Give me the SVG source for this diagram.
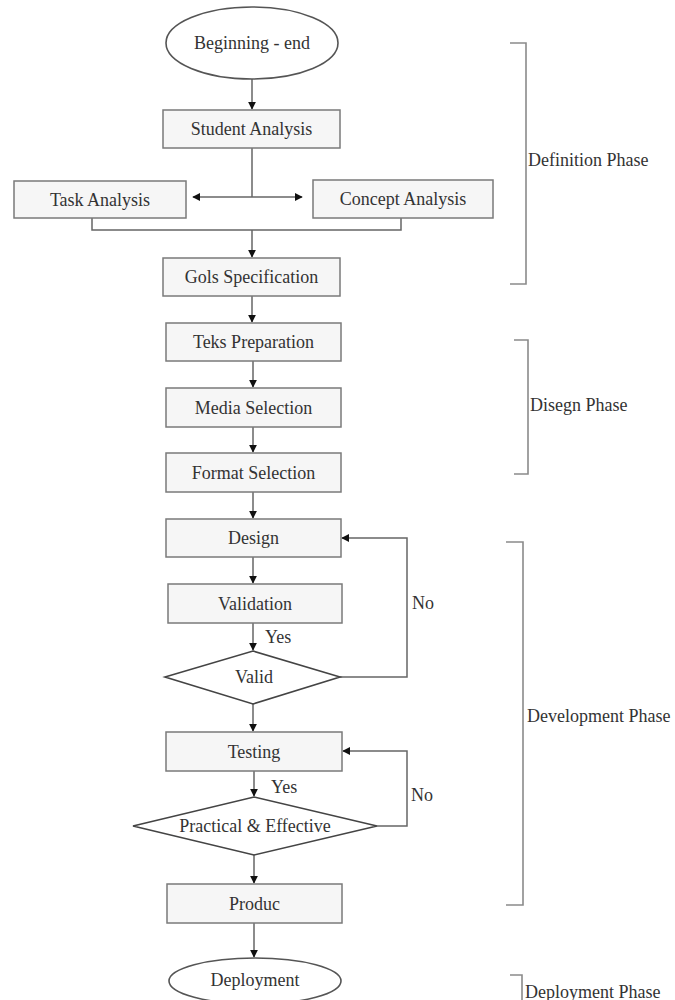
<svg xmlns="http://www.w3.org/2000/svg" width="675" height="1000" viewBox="0 0 675 1000">
<defs>
<style>
.box{fill:#f6f6f6;stroke:#7a7a7a;stroke-width:1.5}
.term{fill:#fff;stroke:#555;stroke-width:1.6}
.dia{fill:#fff;stroke:#444;stroke-width:1.6}
.t{font-family:"Liberation Serif","Times New Roman",serif;font-size:18px;fill:#333;text-anchor:middle;dominant-baseline:central}
.lbl{font-family:"Liberation Serif","Times New Roman",serif;font-size:18px;fill:#333;dominant-baseline:central}
.c{fill:none;stroke:#666;stroke-width:1.5}
.br{fill:none;stroke:#8a8a8a;stroke-width:1.6}
</style>
<marker id="ah" viewBox="0 0 10 10" refX="9" refY="5" markerWidth="8" markerHeight="8" markerUnits="userSpaceOnUse" orient="auto-start-reverse">
<path d="M0,0 L10,5 L0,10 Z" fill="#111"/>
</marker>
</defs>
<g id="connectors">
<path class="c" d="M252,79 V109" marker-end="url(#ah)"/>
<path class="c" d="M252,148 V197"/>
<path class="c" d="M193,197 H302" marker-start="url(#ah)" marker-end="url(#ah)"/>
<path class="c" d="M92,218 V230 H401 V218"/>
<path class="c" d="M252,230 V257" marker-end="url(#ah)"/>
<path class="c" d="M252,296 V322" marker-end="url(#ah)"/>
<path class="c" d="M253,361 V387" marker-end="url(#ah)"/>
<path class="c" d="M253,427 V452" marker-end="url(#ah)"/>
<path class="c" d="M253,492 V518" marker-end="url(#ah)"/>
<path class="c" d="M253,557 V583" marker-end="url(#ah)"/>
<path class="c" d="M253,623 V650" marker-end="url(#ah)"/>
<path class="c" d="M253,704 V731" marker-end="url(#ah)"/>
<path class="c" d="M340,677 H407 V538 H342" marker-end="url(#ah)"/>
<path class="c" d="M254,771 V796" marker-end="url(#ah)"/>
<path class="c" d="M377,826 H407 V751 H343" marker-end="url(#ah)"/>
<path class="c" d="M254,855 V883" marker-end="url(#ah)"/>
<path class="c" d="M254,923 V957" marker-end="url(#ah)"/>
<text class="lbl" x="265" y="637">Yes</text>
<text class="lbl" x="412" y="603">No</text>
<text class="lbl" x="271" y="787">Yes</text>
<text class="lbl" x="411" y="795">No</text>
</g>
<g id="n-begin"><ellipse class="term" cx="252" cy="43" rx="86" ry="36"/><text class="t" x="252" y="43">Beginning - end</text></g>
<g id="n-student"><rect class="box" x="163" y="110" width="177" height="38"/><text class="t" x="251.5" y="129">Student Analysis</text></g>
<g id="n-task"><rect class="box" x="14" y="181" width="172" height="37"/><text class="t" x="100" y="199.5">Task Analysis</text></g>
<g id="n-concept"><rect class="box" x="313" y="180" width="180" height="38"/><text class="t" x="403" y="199">Concept Analysis</text></g>
<g id="n-gols"><rect class="box" x="163" y="258" width="177" height="38"/><text class="t" x="251.5" y="277">Gols Specification</text></g>
<g id="n-teks"><rect class="box" x="166" y="323" width="175" height="38"/><text class="t" x="253.5" y="342">Teks Preparation</text></g>
<g id="n-media"><rect class="box" x="166" y="388" width="175" height="39"/><text class="t" x="253.5" y="407.5">Media Selection</text></g>
<g id="n-format"><rect class="box" x="166" y="453" width="175" height="39"/><text class="t" x="253.5" y="472.5">Format Selection</text></g>
<g id="n-design"><rect class="box" x="166" y="519" width="175" height="38"/><text class="t" x="253.5" y="538">Design</text></g>
<g id="n-validation"><rect class="box" x="168" y="584" width="174" height="39"/><text class="t" x="255" y="603.5">Validation</text></g>
<g id="n-valid"><polygon class="dia" points="253,651 340,677 253,704 165,677"/><text class="t" x="254" y="677">Valid</text></g>
<g id="n-testing"><rect class="box" x="166" y="732" width="176" height="39"/><text class="t" x="254" y="751.5">Testing</text></g>
<g id="n-practical"><polygon class="dia" points="254,797 377,826 254,855 133,826"/><text class="t" x="255" y="826">Practical &amp; Effective</text></g>
<g id="n-produc"><rect class="box" x="167" y="884" width="175" height="39"/><text class="t" x="254.5" y="903.5">Produc</text></g>
<g id="n-deploy"><ellipse class="term" cx="255" cy="981" rx="86" ry="23"/><text class="t" x="255" y="980">Deployment</text></g>
<g id="phase-definition"><path class="br" d="M510,43 H526 V284 H510"/><text class="lbl" x="528" y="160">Definition Phase</text></g>
<g id="phase-design"><path class="br" d="M514,340 H528 V474 H514"/><text class="lbl" x="530" y="405">Disegn Phase</text></g>
<g id="phase-development"><path class="br" d="M506,542 H523 V905 H506"/><text class="lbl" x="527" y="716">Development Phase</text></g>
<g id="phase-deployment"><path class="br" d="M510,975 H522 V1005"/><text class="lbl" x="525" y="992">Deployment Phase</text></g>
</svg>
